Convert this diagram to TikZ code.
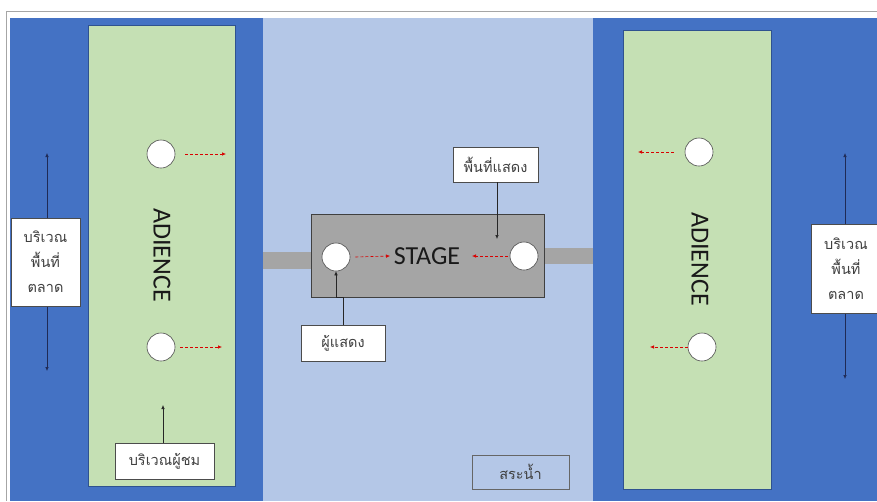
\documentclass[tikz,border=0pt]{standalone}
\usepackage{fontspec}
\setmainfont{Carlito}
\newfontfamily\thaifont[Script=Thai]{Loma}
\usetikzlibrary{arrows.meta}
\definecolor{dblue}{HTML}{4472C4}
\definecolor{lblue}{HTML}{B4C7E7}
\definecolor{lgreen}{HTML}{C5E0B4}
\definecolor{sgray}{HTML}{A5A5A5}
\definecolor{navy}{HTML}{1F2A55}
\definecolor{edge}{HTML}{2F528F}
\tikzset{
  zone/.style={draw=edge, line width=0.8pt},
  seat/.style={circle, draw=black!70, fill=white, line width=0.6pt, minimum size=28pt, inner sep=0pt},
  label box/.style={draw=black!70, fill=white, line width=0.6pt, font=\thaifont\fontsize{14.5}{20}\selectfont, text=black!75, align=center, inner sep=0pt},
  move/.style={red!85!black, dash pattern=on 3pt off 2pt, line width=0.6pt, -{Latex[length=4pt,width=3.5pt]}},
  point/.style={black!85, line width=0.6pt, -{Latex[length=4pt,width=3.5pt]}},
  span/.style={navy, line width=0.6pt, {Latex[length=4pt,width=3.5pt]}-{Latex[length=4pt,width=3.5pt]}},
  bigtext/.style={font=\fontsize{26}{30}\selectfont, text=black!90}
}
\begin{document}
\begin{tikzpicture}[x=1pt, y=-1pt]
\useasboundingbox (0,0) rectangle (877,501);
\fill[white] (0,0) rectangle (877,501);
% outer frame
\draw[black!35, line width=0.8pt] (877,11) -- (6,11) -- (6,501);
% background zones
\fill[dblue] (10,18) rectangle (263,501);
\fill[lblue] (263,18) rectangle (593,501);
\fill[dblue] (593,18) rectangle (877,501);
% audience areas
\draw[zone, fill=lgreen] (88,25) rectangle (235,486);
\draw[zone, fill=lgreen] (623,30) rectangle (771,489);
% stage with side bars
\fill[sgray] (263,252) rectangle (311,269);
\fill[sgray] (544,248) rectangle (593,264);
\node[draw=black!75, fill=sgray, line width=0.6pt, minimum width=233pt, minimum height=83pt, inner sep=0pt] (stage) at (427.5,255.5) {};
\node[bigtext] (stagetext) at (427,256) {STAGE};
% audience texts
\node[bigtext, rotate=-90] (adl) at (162,255) {ADIENCE};
\node[bigtext, rotate=-90] (adr) at (700,259) {ADIENCE};
% seats
\node[seat] (sl1) at (161,154) {};
\node[seat] (sl2) at (161,347) {};
\node[seat] (sr1) at (699,152) {};
\node[seat] (sr2) at (702,347) {};
\node[seat] (ps1) at (336,257) {};
\node[seat] (ps2) at (524,256) {};
% movement arrows
\coordinate (ml1) at (226,154);
\coordinate (ml2) at (222,347);
\coordinate (mr1) at (638,152);
\coordinate (mr2) at (650,347);
\coordinate (mp1) at (390,256);
\coordinate (mp2) at (472,256);
\draw[move] ([xshift=10pt]sl1.east) -- (ml1);
\draw[move] ([xshift=5pt]sl2.east) -- (ml2);
\draw[move] ([xshift=-11pt]sr1.west) -- (mr1);
\draw[move] (sr2.west) -- (mr2);
\draw[move] ([xshift=5pt]ps1.east) -- (mp1);
\draw[move] ([xshift=-2pt]ps2.west) -- (mp2);
% market areas
\coordinate (al1) at (47,153);
\coordinate (al2) at (47,371);
\coordinate (ar1) at (845,153);
\coordinate (ar2) at (845,379);
\draw[span] (al1) -- (al2);
\draw[span] (ar1) -- (ar2);
\node[label box, minimum width=69pt, minimum height=88pt] (mkl) at (45.5,262) {บริเวณ\\[5pt]พื้นที่\\[5pt]ตลาด};
\node[label box, minimum width=70pt, minimum height=89pt] (mkr) at (846,268.5) {บริเวณ\\[5pt]พื้นที่\\[5pt]ตลาด};
% performance area label
\node[label box, minimum width=85pt, minimum height=35pt] (perf) at (495.5,164.5) {พื้นที่แสดง};
\coordinate (perfend) at (497,239);
\draw[point] (perf.south -| perfend) -- (perfend);
% performer label
\node[label box, minimum width=84pt, minimum height=36pt] (actor) at (343,343) {ผู้แสดง};
\draw[point] (actor.north) -- (343,297) -- (336,297) -- (ps1.south);
% audience area label
\node[label box, minimum width=99pt, minimum height=36pt] (aud) at (164.5,461) {บริเวณผู้ชม};
\coordinate (audend) at (163,405);
\draw[point] (aud.north -| audend) -- (audend);
% pond
\node[label box, fill=none, draw=black!60, minimum width=97pt, minimum height=34pt] (pond) at (520.5,472) {สระน้ำ};
\end{tikzpicture}
\end{document}
